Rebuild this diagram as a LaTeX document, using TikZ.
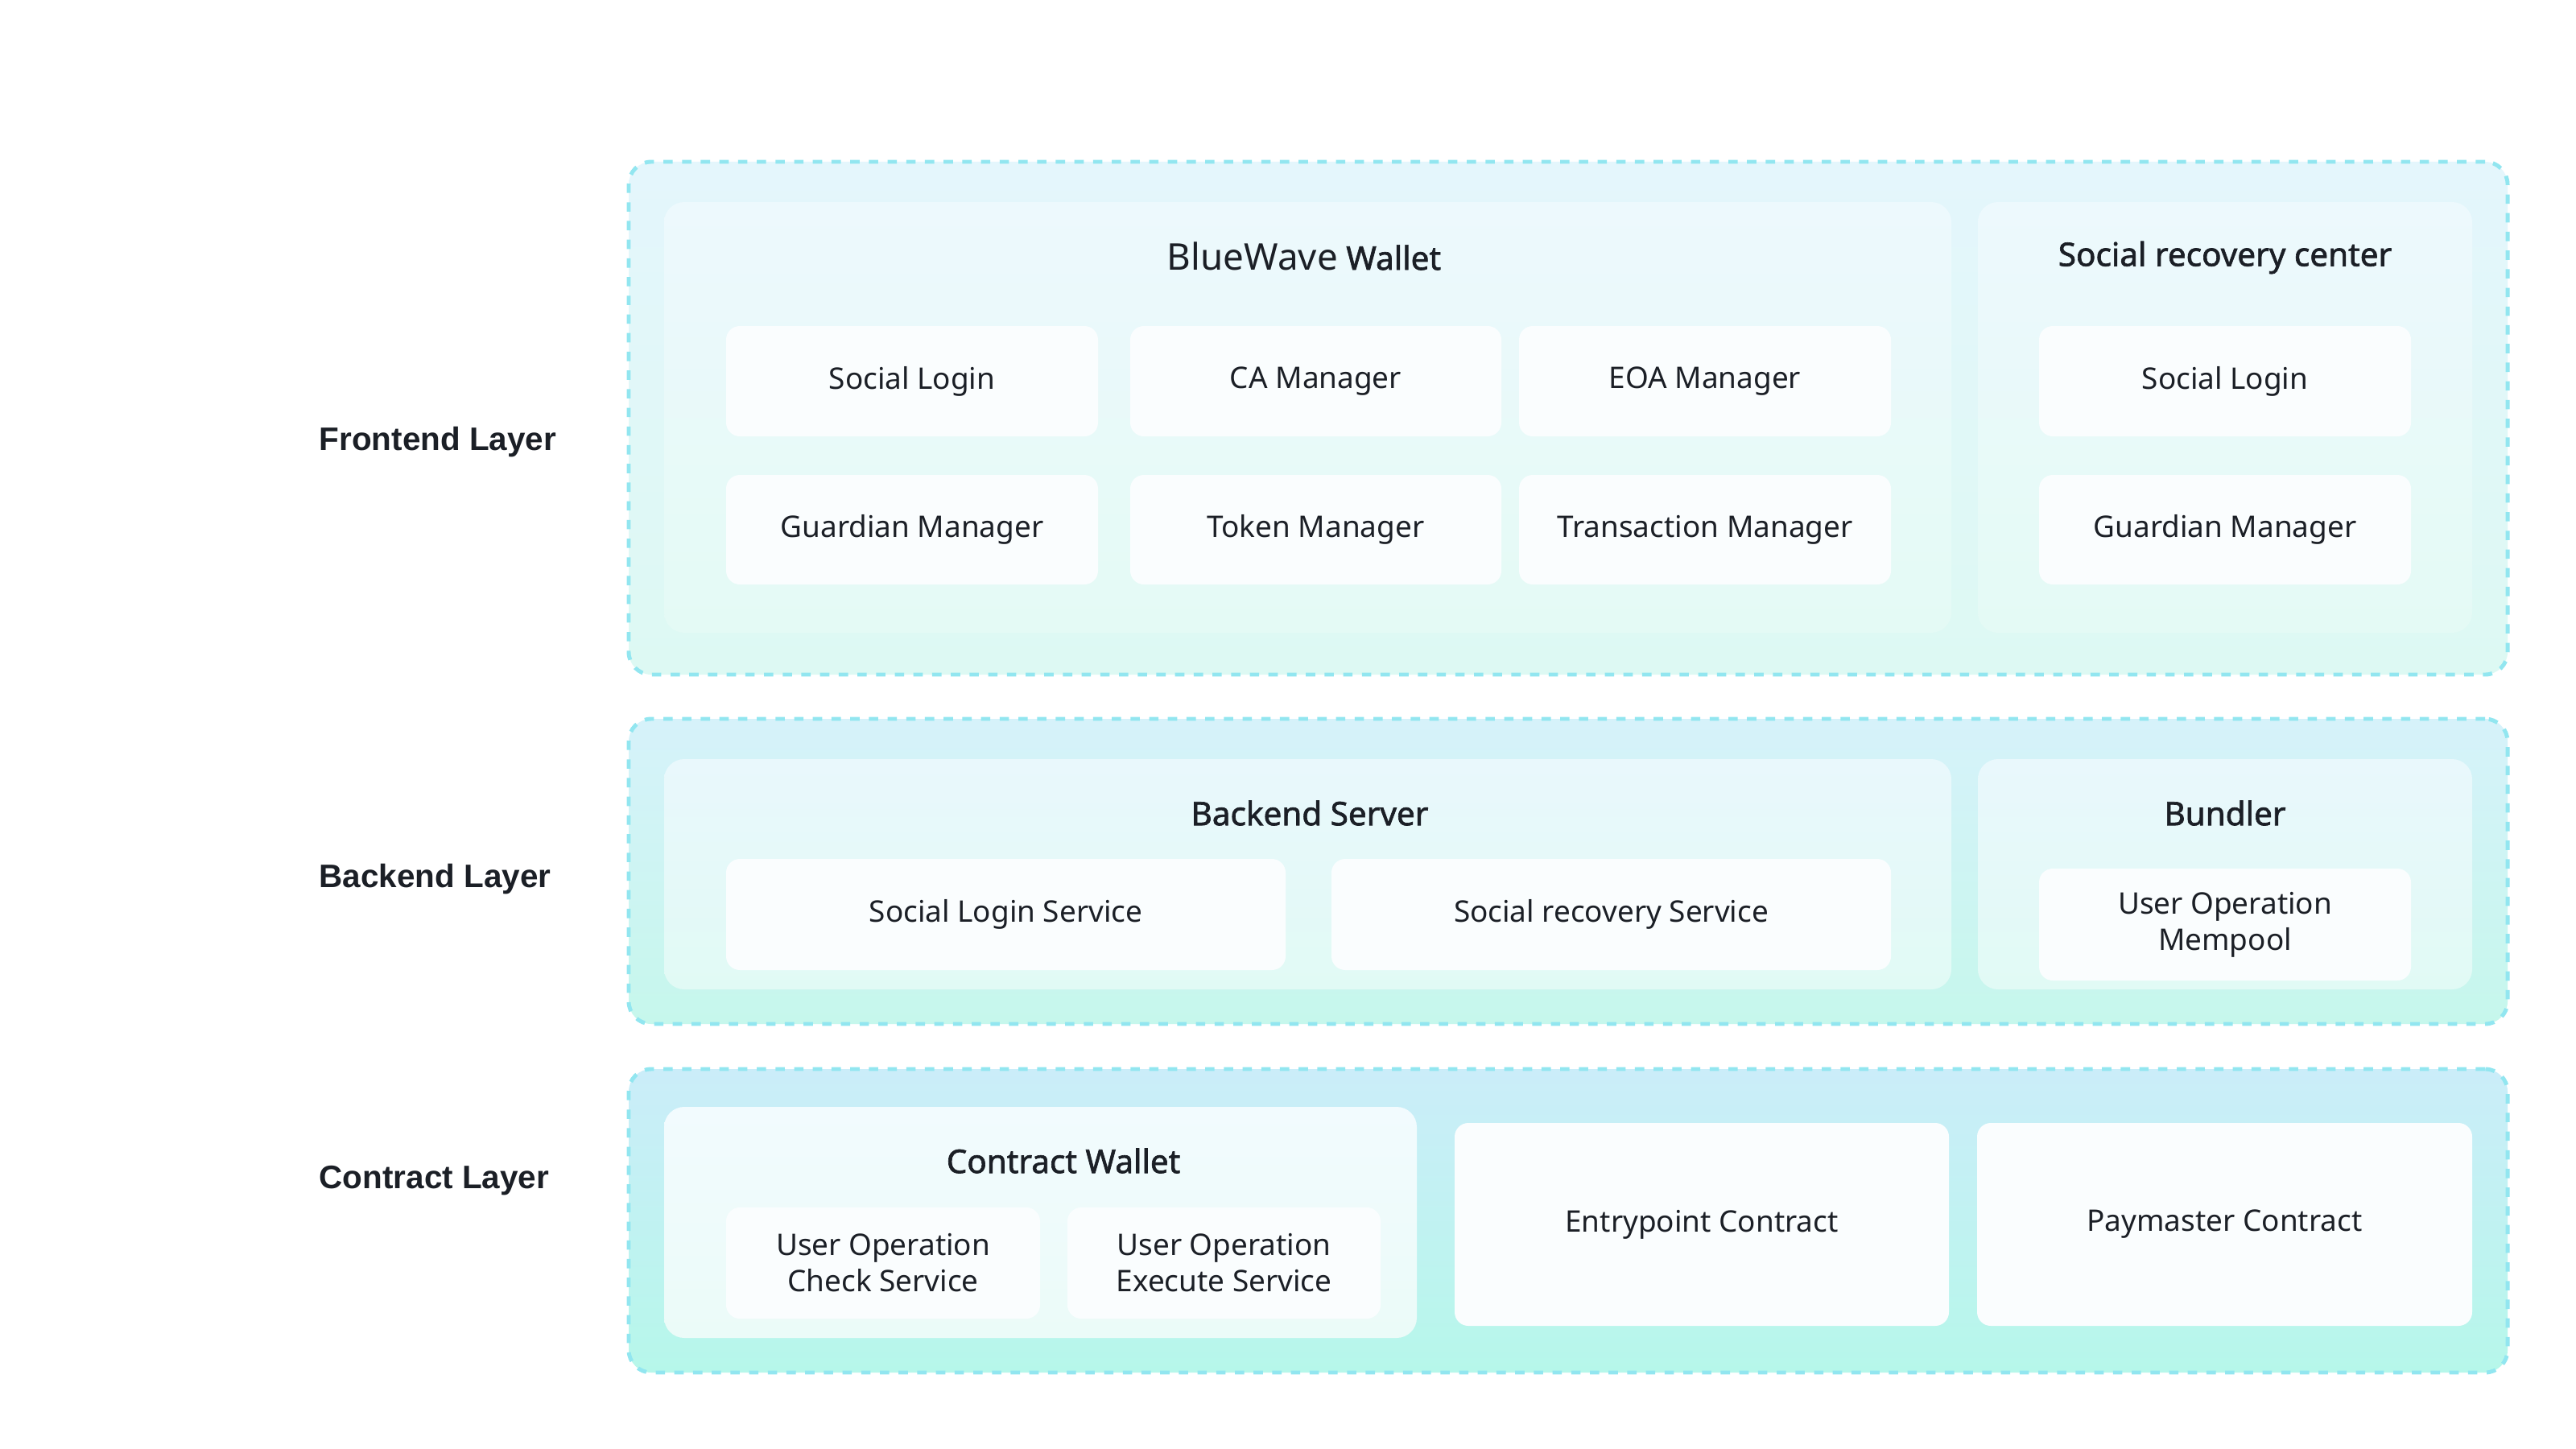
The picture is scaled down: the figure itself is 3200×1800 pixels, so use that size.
\documentclass[tikz,border=0pt]{standalone}
\usepackage{fontspec}
\setmainfont{Noto Sans}
\newfontfamily\ttlfont{Noto Sans}[FakeBold=1.6]
\newfontfamily\layerfont{Liberation Sans}
\definecolor{txt}{HTML}{1B1F26}
\definecolor{dashc}{HTML}{92E6F0}
\definecolor{lAtop}{HTML}{E4F6FC}\definecolor{lAbot}{HTML}{DDF9F3}
\definecolor{lBtop}{HTML}{D6F2FA}\definecolor{lBbot}{HTML}{C6F7EC}
\definecolor{lCtop}{HTML}{CBEDF9}\definecolor{lCbot}{HTML}{B6F7EA}
\definecolor{pAtop}{HTML}{EDF9FD}\definecolor{pAbot}{HTML}{E4FAF5}
\definecolor{pBtop}{HTML}{E9F8FC}\definecolor{pBbot}{HTML}{E1FAF5}
\definecolor{pCtop}{HTML}{F2FBFE}\definecolor{pCbot}{HTML}{EBFBF8}
\definecolor{boxc}{HTML}{FAFDFE}
\tikzset{
  base/.style={anchor=north west, inner sep=0pt, outer sep=0pt, text=txt, align=center},
  layerbox/.style={base, draw=dashc, line width=1.4pt, dash pattern=on 3.3pt off 3.3pt, rounded corners=0.28cm},
  panel/.style={base, rounded corners=0.25cm},
  cell/.style={base, fill=boxc, rounded corners=0.17cm, font=\fontsize{10.5}{12.8}\selectfont},
  ttl/.style={text=txt, inner sep=0pt, font=\ttlfont\fontsize{11.5}{14}\selectfont},
  lyr/.style={text=txt, inner sep=0pt, anchor=west, font=\layerfont\fontsize{11.5}{14}\selectfont\bfseries},
}
\newcommand\rbox[7]{\node[#6, minimum width={(#4-#2)*0.01cm}, minimum height={(#5-#3)*0.01cm}] (#1) at (#2,#3) {#7};}
\begin{document}
\begin{tikzpicture}[x=0.01cm,y=-0.01cm]
\useasboundingbox[fill=white] (0,0) rectangle (3200,1800);
% layer labels
\node[lyr] (lf) at (396,549) {Frontend Layer};
\node[lyr] (lb) at (396,1092) {Backend Layer};
\node[lyr] (lc) at (396,1467) {Contract Layer};
% layers
\rbox{LA}{781}{201}{3115}{838}{layerbox, top color=lAtop, bottom color=lAbot}{}
\rbox{LB}{781}{893}{3115}{1272}{layerbox, top color=lBtop, bottom color=lBbot}{}
\rbox{LC}{781}{1328}{3115}{1705}{layerbox, top color=lCtop, bottom color=lCbot}{}
% frontend panels
\rbox{PW}{825}{251}{2424}{786}{panel, top color=pAtop, bottom color=pAbot}{}
\rbox{PS}{2457}{251}{3071}{786}{panel, top color=pAtop, bottom color=pAbot}{}
\node[ttl] (tW) at (1620,318) {{\fontsize{13}{15}\selectfont\rmfamily BlueWave} Wallet};
\node[ttl] (tS) at (2764,320) {Social recovery center};
\rbox{f1}{902}{405}{1364}{542}{cell}{Social Login}
\rbox{f2}{1404}{405}{1865}{542}{cell}{CA Manager}
\rbox{f3}{1887}{405}{2349}{542}{cell}{EOA Manager}
\rbox{f4}{902}{590}{1364}{726}{cell}{Guardian Manager}
\rbox{f5}{1404}{590}{1865}{726}{cell}{Token Manager}
\rbox{f6}{1887}{590}{2349}{726}{cell}{Transaction Manager}
\rbox{s1}{2533}{405}{2995}{542}{cell}{Social Login}
\rbox{s2}{2533}{590}{2995}{726}{cell}{Guardian Manager}
% backend panels
\rbox{PB}{825}{943}{2424}{1229}{panel, top color=pBtop, bottom color=pBbot}{}
\rbox{PU}{2457}{943}{3071}{1229}{panel, top color=pBtop, bottom color=pBbot}{}
\node[ttl] (tB) at (1627,1010) {Backend Server};
\node[ttl] (tU) at (2764,1010) {Bundler};
\rbox{b1}{902}{1067}{1597}{1205}{cell}{Social Login Service}
\rbox{b2}{1654}{1067}{2349}{1205}{cell}{Social recovery Service}
\rbox{b3}{2533}{1079}{2995}{1218}{cell}{User Operation\\Mempool}
% contract panels
\rbox{PC}{825}{1375}{1760}{1662}{panel, top color=pCtop, bottom color=pCbot}{}
\node[ttl] (tC) at (1321,1442) {Contract Wallet};
\rbox{c1}{902}{1500}{1292}{1638}{cell}{User Operation\\Check Service}
\rbox{c2}{1326}{1500}{1715}{1638}{cell}{User Operation\\Execute Service}
\rbox{c3}{1807}{1395}{2421}{1647}{cell}{Entrypoint Contract}
\rbox{c4}{2456}{1395}{3071}{1647}{cell}{Paymaster Contract}
\end{tikzpicture}
\end{document}
